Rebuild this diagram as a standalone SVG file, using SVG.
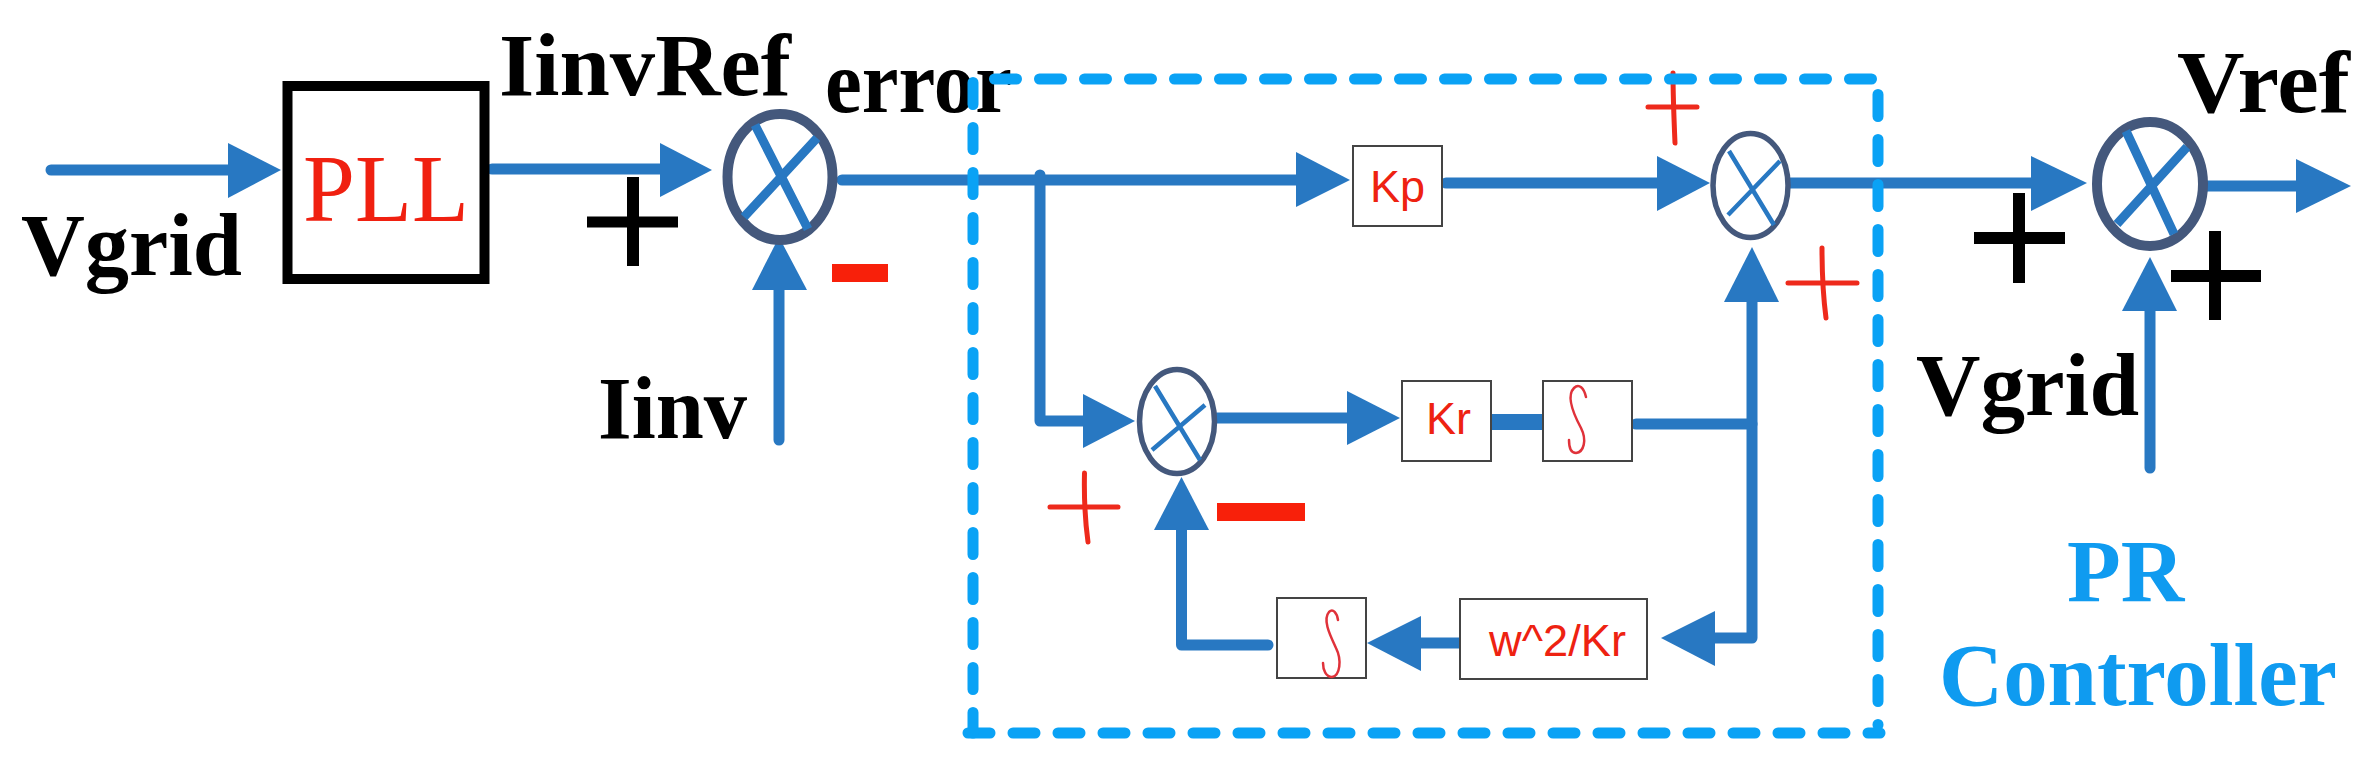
<svg xmlns="http://www.w3.org/2000/svg" width="2375" height="770" viewBox="0 0 2375 770">
<style>
.bg{fill:#fff}
.w{fill:none;stroke:#2878c2;stroke-width:11;stroke-linecap:round;stroke-linejoin:round}
.h{fill:#2878c2;stroke:none}
.lbl{font-family:"Liberation Serif",serif;font-weight:700;font-size:88px;fill:#000}
.pr{fill:#0f9bf0}
.rt{font-family:"Liberation Sans",Arial,sans-serif;font-size:45px;fill:#ee2211}
.box{fill:#fff;stroke:#444;stroke-width:2}
.int{fill:none;stroke:#e0323a;stroke-width:2.5;stroke-linecap:round}
.sumb{fill:#fff;stroke:#44587c;stroke-width:10}
.sums{fill:#fff;stroke:#44587c;stroke-width:5.5}
.xb{stroke:#2878c2;stroke-width:9}
.xs{stroke:#2878c2;stroke-width:4.5}
.blk{fill:#000}
.red{fill:#f8200a}
.rp{stroke:#ee2a1c;stroke-linecap:round;fill:none}
.dash{fill:none;stroke:#0aa2f5;stroke-width:11;stroke-linecap:round;stroke-dasharray:22 23}
</style>
<rect class="bg" width="2375" height="770"/>
<g id="labels">
<text class="lbl" x="21" y="275" textLength="221" lengthAdjust="spacingAndGlyphs">Vgrid</text>
<text class="lbl" x="499" y="95" textLength="292" lengthAdjust="spacingAndGlyphs">IinvRef</text>
<text class="lbl" x="825" y="112" textLength="187" lengthAdjust="spacingAndGlyphs">error</text>
<text class="lbl" x="598" y="438" textLength="149" lengthAdjust="spacingAndGlyphs">Iinv</text>
<text class="lbl" x="2177" y="112" textLength="173" lengthAdjust="spacingAndGlyphs">Vref</text>
<text class="lbl" x="1916" y="415" textLength="223" lengthAdjust="spacingAndGlyphs">Vgrid</text>
<text class="lbl pr" x="2067" y="601">PR</text>
<text class="lbl pr" x="1939" y="705" textLength="398" lengthAdjust="spacingAndGlyphs">Controller</text>
</g>
<g id="connectors">
<path class="w" d="M51 170H232"/><polygon class="h" points="228,143 281,170 228,198"/>
<path class="w" d="M492 169H664"/><polygon class="h" points="660,143 712,170 660,197"/>
<path class="w" d="M779 440V286"/><polygon class="h" points="752,290 779,237 807,290"/>
<path class="w" d="M842 180H1300"/><polygon class="h" points="1296,152 1350,180 1296,207"/>
<path class="w" d="M1040 175V421H1087"/><polygon class="h" points="1083,394 1135,421 1083,448"/>
<path class="w" d="M1214 418H1351"/><polygon class="h" points="1347,391 1400,418 1347,445"/>
<path d="M1491 422H1543" stroke="#2878c2" stroke-width="16" fill="none"/>
<path class="w" d="M1636 424H1752"/>
<path class="w" d="M1752 298V638H1711"/><polygon class="h" points="1724,302 1752,247 1779,302"/><polygon class="h" points="1715,611 1661,638 1715,666"/>
<path class="w" d="M1460 643H1417"/><polygon class="h" points="1421,616 1367,643 1421,671"/>
<path class="w" d="M1268 645H1181.500V526"/><polygon class="h" points="1154,530 1181.500,477 1209,530"/>
<path class="w" d="M1446 183H1661"/><polygon class="h" points="1657,156 1710,183 1657,211"/>
<path class="w" d="M1786 183H2035"/><polygon class="h" points="2031,156 2087,183 2031,211"/>
<path class="w" d="M2200 186H2300"/><polygon class="h" points="2296,159 2351,186 2296,213"/>
<path class="w" d="M2150 468V307"/><polygon class="h" points="2122,311 2150,257 2177,311"/>
</g>
<g id="pll"><rect x="287.500" y="86" width="197" height="193" fill="#fff" stroke="#000" stroke-width="10"/>
<text x="303" y="221" font-family="Liberation Serif, serif" font-size="95" fill="#f02010" textLength="166" lengthAdjust="spacingAndGlyphs">PLL</text></g>
<g id="sum1"><ellipse class="sumb" cx="780" cy="177" rx="52.500" ry="63"/><path class="xb" d="M755 125L808 229M817 138L744 217"/></g>
<g id="sum2"><ellipse class="sums" cx="1177" cy="421.500" rx="37.500" ry="52"/><path class="xs" d="M1155 386L1200 460M1205 405L1152 450"/></g>
<g id="sum3"><ellipse class="sums" cx="1750.500" cy="185.500" rx="37.500" ry="52"/><path class="xs" d="M1729 151L1774 225M1780 161L1728 215"/></g>
<g id="sum4"><ellipse class="sumb" cx="2150" cy="184" rx="53" ry="62"/><path class="xb" d="M2126 131L2174 234M2187 147L2117 224"/></g>
<g id="kp"><rect class="box" x="1353" y="146" width="89" height="80"/><text class="rt" x="1370" y="202">Kp</text></g>
<g id="kr"><rect class="box" x="1402" y="381" width="89" height="80"/><text class="rt" x="1426" y="434">Kr</text></g>
<g id="int1"><rect class="box" x="1543" y="381" width="89" height="80"/><path class="int" d="M1586 397C1584 388 1579 383 1574 388C1566 396 1574 415 1581 428C1587 440 1584 452 1576 453C1570 453 1569 446 1569 440"/></g>
<g id="w2kr"><rect class="box" x="1460" y="599" width="187" height="80"/><text class="rt" x="1489" y="656" textLength="137" lengthAdjust="spacingAndGlyphs">w^2/Kr</text></g>
<g id="int2"><rect class="box" x="1277" y="598" width="89" height="80"/><path class="int" d="M1338 620C1337 613 1333 608 1329 612C1322 620 1331 637 1336 648C1342 660 1340 676 1332 677C1326 677 1323 670 1323 663"/></g>
<g id="signs">
<path class="blk" d="M587 216.500H627V177H639V216.500H678V227.500H639V266H627V227.500H587Z"/>
<rect class="red" x="832" y="264" width="56" height="18"/>
<path class="blk" d="M1974 232H2013V193H2025V232H2065V244H2025V283H2013V244H1974Z"/>
<path class="blk" d="M2171 270H2209V231H2221V270H2261V282H2221V320H2209V282H2171Z"/>
<rect class="red" x="1217" y="503" width="88" height="18"/>
<path class="rp" stroke-width="5" d="M1050 507H1118M1084.500 473C1084 495 1085 520 1088 542"/>
<path class="rp" stroke-width="5" d="M1648 107H1697M1673 73C1673 95 1674 120 1675 143"/>
<path class="rp" stroke-width="5" d="M1788 283H1857M1822 248C1822 270 1823 295 1826 318"/>
</g>
<g id="pr-frame">
<path class="dash" d="M994.500 79H1875"/>
<path class="dash" d="M1878 94.500V725"/>
<path class="dash" d="M968 733H1880"/>
<path class="dash" d="M973 82.500V733"/>
</g>
</svg>
